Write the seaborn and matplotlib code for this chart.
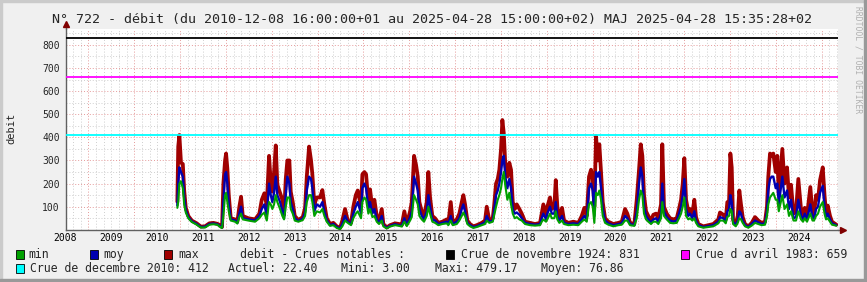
import numpy as np
import pandas as pd
import matplotlib
matplotlib.use("Agg")
import matplotlib.pyplot as plt
from matplotlib.ticker import FixedLocator, FuncFormatter
from matplotlib.patches import Rectangle
import seaborn as sns

# ---------------- data (decimal years, m3/s) ----------------
t_years = [
    2010.940, 2010.960, 2010.985, 2011.020, 2011.060, 2011.090, 2011.125, 2011.180, 2011.255, 2011.364,
    2011.452, 2011.546, 2011.639, 2011.727, 2011.814, 2011.888, 2011.916, 2011.945, 2011.982, 2012.004,
    2012.032, 2012.063, 2012.106, 2012.200, 2012.250, 2012.294, 2012.331, 2012.368, 2012.490, 2012.637,
    2012.730, 2012.783, 2012.839, 2012.892, 2012.942, 2012.979, 2013.014, 2013.051, 2013.088, 2013.123,
    2013.182, 2013.232, 2013.269, 2013.306, 2013.341, 2013.385, 2013.415, 2013.459, 2013.503, 2013.581,
    2013.677, 2013.728, 2013.765, 2013.815, 2013.858, 2013.887, 2013.930, 2013.983, 2014.055, 2014.105,
    2014.149, 2014.201, 2014.273, 2014.345, 2014.419, 2014.491, 2014.541, 2014.600, 2014.659, 2014.731,
    2014.781, 2014.834, 2014.877, 2014.949, 2014.978, 2015.022, 2015.059, 2015.109, 2015.146, 2015.196,
    2015.240, 2015.292, 2015.342, 2015.401, 2015.436, 2015.510, 2015.582, 2015.691, 2015.779, 2015.837,
    2015.894, 2015.947, 2016.019, 2016.056, 2016.106, 2016.150, 2016.187, 2016.222, 2016.274, 2016.324,
    2016.383, 2016.418, 2016.455, 2016.505, 2016.564, 2016.636, 2016.723, 2016.819, 2016.854, 2016.907,
    2016.950, 2017.038, 2017.094, 2017.147, 2017.182, 2017.219, 2017.269, 2017.328, 2017.400, 2017.474,
    2017.583, 2017.655, 2017.692, 2017.749, 2017.823, 2017.851, 2017.895, 2017.932, 2017.967, 2018.004,
    2018.033, 2018.063, 2018.098, 2018.142, 2018.185, 2018.222, 2018.260, 2018.303, 2018.347, 2018.404,
    2018.456, 2018.528, 2018.637, 2018.746, 2018.855, 2018.892, 2018.927, 2018.986, 2019.014, 2019.073,
    2019.110, 2019.167, 2019.198, 2019.233, 2019.276, 2019.335, 2019.379, 2019.473, 2019.582, 2019.691,
    2019.765, 2019.822, 2019.874, 2019.924, 2019.968, 2020.005, 2020.040, 2020.077, 2020.114, 2020.149,
    2020.186, 2020.223, 2020.274, 2020.346, 2020.455, 2020.564, 2020.638, 2020.710, 2020.760, 2020.819,
    2020.913, 2020.965, 2021.015, 2021.053, 2021.088, 2021.124, 2021.168, 2021.218, 2021.277, 2021.327,
    2021.386, 2021.436, 2021.495, 2021.523, 2021.560, 2021.620, 2021.692, 2021.764, 2021.838, 2021.888,
    2021.932, 2021.969, 2022.004, 2022.041, 2022.091, 2022.128, 2022.178, 2022.222, 2022.259, 2022.309,
    2022.418, 2022.527, 2022.636, 2022.745, 2022.782, 2022.855, 2022.907, 2022.942, 2022.979, 2023.008,
    2023.038, 2023.067, 2023.126, 2023.169, 2023.204, 2023.240, 2023.277, 2023.328, 2023.400, 2023.474,
    2023.546, 2023.618, 2023.691, 2023.764, 2023.807, 2023.836, 2023.873, 2023.910, 2023.945, 2023.998,
    2024.033, 2024.065, 2024.142, 2024.190, 2024.245, 2024.288, 2024.332, 2024.386, 2024.441, 2024.491,
    2024.550, 2024.594, 2024.631, 2024.681, 2024.753, 2024.801, 2024.834, 2024.878, 2024.921, 2024.965,
    2025.024, 2025.063, 2025.096, 2025.133, 2025.183, 2025.226, 2025.320,
]
debit_max = [
    122, 360, 410, 290, 285, 170, 95, 60, 40, 28,
    14, 15, 28, 30, 26, 18, 12, 200, 300, 330,
    265, 150, 50, 45, 35, 100, 143, 60, 50, 45,
    70, 130, 158, 105, 320, 205, 165, 250, 365, 195,
    160, 130, 65, 220, 300, 300, 165, 120, 60, 42,
    55, 95, 230, 360, 300, 240, 110, 140, 140, 172,
    110, 50, 25, 30, 15, 8, 40, 90, 40, 30,
    100, 150, 170, 100, 240, 250, 240, 120, 175, 90,
    130, 60, 40, 90, 25, 10, 20, 28, 25, 20,
    80, 25, 80, 120, 320, 280, 230, 120, 80, 60,
    120, 250, 140, 60, 50, 30, 35, 45, 30, 120,
    30, 45, 70, 120, 150, 110, 40, 25, 15, 20,
    30, 40, 100, 40, 50, 100, 200, 220, 260, 350,
    475, 420, 280, 230, 290, 260, 120, 90, 110, 90,
    70, 35, 30, 25, 30, 70, 110, 60, 100, 140,
    90, 100, 215, 100, 50, 95, 40, 30, 35, 30,
    60, 95, 60, 230, 260, 220, 100, 405, 300, 370,
    250, 120, 50, 35, 25, 30, 35, 90, 70, 30,
    25, 130, 260, 370, 320, 150, 80, 60, 40, 65,
    70, 50, 110, 370, 100, 70, 50, 45, 50, 90,
    130, 200, 310, 130, 80, 90, 70, 130, 55, 25,
    15, 20, 25, 45, 75, 65, 45, 120, 120, 330,
    270, 45, 25, 60, 170, 110, 55, 25, 15, 30,
    55, 40, 30, 35, 100, 230, 330, 320, 330, 250,
    320, 150, 350, 200, 270, 140, 195, 70, 80, 220,
    90, 60, 95, 60, 185, 70, 65, 150, 130, 215,
    270, 150, 70, 105, 60, 35, 22.4,
]
debit_moy = [
    105, 200, 270, 250, 230, 140, 85, 55, 37, 25,
    12, 13, 25, 27, 24, 14, 10, 120, 240, 250,
    200, 110, 45, 40, 30, 70, 100, 50, 45, 40,
    60, 90, 110, 60, 200, 150, 120, 160, 230, 150,
    120, 80, 50, 150, 230, 200, 120, 90, 50, 38,
    48, 75, 170, 230, 220, 180, 80, 110, 100, 120,
    80, 42, 20, 25, 12, 6, 25, 60, 35, 25,
    70, 100, 120, 70, 180, 200, 180, 90, 120, 70,
    90, 45, 30, 60, 20, 8, 17, 24, 20, 17,
    50, 20, 55, 80, 230, 200, 170, 90, 60, 45,
    80, 150, 100, 45, 40, 25, 30, 35, 25, 60,
    25, 35, 50, 90, 110, 80, 30, 20, 12, 15,
    25, 32, 60, 35, 40, 80, 150, 170, 200, 250,
    300, 320, 230, 180, 220, 180, 90, 70, 75, 65,
    50, 30, 25, 22, 25, 50, 70, 45, 70, 100,
    70, 70, 120, 60, 40, 60, 30, 25, 28, 25,
    45, 60, 45, 180, 200, 170, 60, 250, 230, 250,
    180, 90, 40, 28, 20, 25, 28, 60, 50, 25,
    20, 80, 200, 270, 230, 100, 60, 45, 30, 45,
    50, 35, 70, 200, 80, 55, 40, 35, 40, 70,
    100, 150, 220, 90, 60, 70, 50, 80, 40, 20,
    12, 16, 20, 35, 55, 50, 35, 80, 90, 150,
    120, 35, 20, 40, 80, 70, 40, 20, 12, 25,
    40, 32, 25, 28, 80, 170, 220, 230, 230, 180,
    200, 110, 230, 140, 170, 90, 130, 50, 55, 130,
    60, 45, 70, 45, 110, 50, 50, 90, 100, 160,
    190, 100, 55, 70, 45, 28, 20,
]
debit_min = [
    95, 120, 200, 210, 180, 110, 75, 50, 34, 22,
    10, 10, 22, 24, 22, 10, 8, 60, 150, 160,
    120, 80, 40, 35, 27, 55, 70, 45, 40, 35,
    50, 65, 75, 40, 120, 110, 90, 110, 150, 120,
    90, 60, 45, 100, 140, 140, 90, 70, 40, 35,
    42, 60, 120, 150, 150, 120, 60, 80, 75, 90,
    60, 35, 17, 20, 8, 3, 15, 40, 30, 20,
    50, 70, 80, 50, 120, 140, 130, 70, 90, 55,
    60, 35, 25, 40, 15, 6, 14, 20, 17, 14,
    35, 16, 40, 55, 150, 130, 110, 60, 45, 35,
    60, 100, 70, 35, 30, 20, 25, 28, 20, 40,
    20, 25, 40, 60, 75, 60, 25, 15, 8, 12,
    20, 25, 40, 30, 35, 60, 100, 130, 150, 180,
    220, 250, 190, 130, 160, 110, 70, 50, 55, 45,
    40, 25, 20, 18, 20, 35, 45, 35, 45, 70,
    50, 50, 80, 45, 30, 40, 25, 20, 22, 20,
    35, 45, 35, 110, 120, 100, 30, 160, 150, 170,
    130, 60, 30, 22, 15, 20, 22, 40, 40, 20,
    17, 50, 130, 170, 150, 70, 45, 35, 25, 35,
    35, 25, 50, 120, 60, 45, 30, 28, 30, 50,
    70, 100, 140, 60, 45, 50, 40, 50, 30, 15,
    9, 12, 15, 28, 40, 40, 28, 55, 60, 90,
    80, 25, 15, 30, 50, 45, 30, 15, 9, 18,
    30, 25, 20, 22, 60, 110, 140, 150, 160, 130,
    130, 80, 150, 90, 110, 60, 80, 40, 40, 80,
    45, 35, 50, 35, 70, 40, 40, 60, 70, 100,
    120, 70, 45, 50, 35, 22, 18,
]

crue_labels = ["Crue de novembre 1924", "Crue d avril 1983", "Crue de decembre 2010"]
crue_values = [831, 659, 412]
crue_colors = ["#000000", "#ff00ff", "#00ffff"]

series_names = ["min", "moy", "max"]
series_colors = ["#00a000", "#0000b0", "#a00000"]

stat_labels = ["Actuel", "Mini", "Maxi", "Moyen"]
stat_values = [22.40, 3.00, 479.17, 76.86]

title = ("N° 722 - débit (du 2010-12-08 16:00:00+01 au 2025-04-28 15:00:00+02) "
         "MAJ 2025-04-28 15:35:28+02")

# ---------------- figure ----------------
sns.set_style("white")
MONO = ["DejaVu Sans Mono", "DejaVu Sans"]
plt.rcParams["font.family"] = MONO

W, H = 867, 282
fig = plt.figure(figsize=(W / 100, H / 100), dpi=100, facecolor="#f0f0f0")

def fx(px):
    return px / W

def fy(py):
    return 1 - py / H

# 3D frame borders
fig.patches.append(Rectangle((0, fy(2)), 1, 2 / H, transform=fig.transFigure, color="#cbcbcb", zorder=0))
fig.patches.append(Rectangle((0, 0), 2 / W, 1, transform=fig.transFigure, color="#cbcbcb", zorder=0))
fig.patches.append(Rectangle((0, 0), 1, 3 / H, transform=fig.transFigure, color="#999999", zorder=0))
fig.patches.append(Rectangle((1 - 3 / W, 0), 3 / W, 1, transform=fig.transFigure, color="#999999", zorder=0))

x_left, x_right = 65.5, 838
y_top, y_bot = 28.5, 229.8
ax = fig.add_axes([fx(x_left), fy(y_bot), fx(x_right - x_left), (y_bot - y_top) / H])
ax.set_facecolor("white")

df = pd.DataFrame({"t": t_years, "max": debit_max, "moy": debit_moy, "min": debit_min})
for name, col, lw in [("max", series_colors[2], 2.7), ("moy", series_colors[1], 1.7), ("min", series_colors[0], 1.5)]:
    sns.lineplot(data=df, x="t", y=name, color=col, lw=lw, ax=ax,
                 estimator=None, sort=False, zorder=3)

for v, c in zip(crue_values, crue_colors):
    ax.axhline(v, color=c, lw=1.3, zorder=4)

ax.set_xlim(2008.5, 2025.357)
ax.set_ylim(0, 871)

# x ticks: year starts (major, red grid), every 2 months (minor, grey), labels mid-year
ax.xaxis.set_major_locator(FixedLocator(np.arange(2009, 2026)))
ax.xaxis.set_major_formatter(FuncFormatter(lambda v, p: ""))
ax.xaxis.set_minor_locator(FixedLocator(np.arange(2008.5, 2025.4, 1 / 6)))

def minor_fmt(v, p):
    if abs((v % 1) - 0.5) < 1e-6:
        return str(int(np.floor(v)))
    return ""

ax.xaxis.set_minor_formatter(FuncFormatter(minor_fmt))

ax.yaxis.set_major_locator(FixedLocator(np.arange(100, 900, 100)))
ax.yaxis.set_minor_locator(FixedLocator(np.arange(50, 900, 100)))

ax.grid(which="major", color="#e59a9a", lw=0.7, ls=(0, (1, 2)), zorder=1)
ax.grid(which="minor", color="#cfcfcf", lw=0.7, ls=(0, (1, 2)), zorder=1)
ax.set_axisbelow(True)

ax.tick_params(axis="x", which="both", labelsize=7, length=1.5, pad=1, colors="#000000")
ax.tick_params(axis="x", which="major", color="#c04040")
ax.tick_params(axis="x", which="minor", color="#909090")
ax.tick_params(axis="y", which="both", labelsize=7, length=0, pad=4)

for s in ["top", "right"]:
    ax.spines[s].set_visible(False)
for s in ["left", "bottom"]:
    ax.spines[s].set_color("#606060")
    ax.spines[s].set_linewidth(1.0)

ax.set_xlabel("")
ax.set_ylabel("")

# axis arrows
ax.plot([1.0, 1.006], [0, 0], transform=ax.transAxes, color="#606060", lw=1, clip_on=False, zorder=5)
ax.plot([1.006], [0], marker=">", ms=5, color="#800000", transform=ax.transAxes, clip_on=False, zorder=6)
ax.plot([0, 0], [1.0, 1.02], transform=ax.transAxes, color="#606060", lw=1, clip_on=False, zorder=5)
ax.plot([0], [1.02], marker="^", ms=5, color="#800000", transform=ax.transAxes, clip_on=False, zorder=6)

# texts
fig.text(fx(52.5), fy(20), title, fontsize=9.6, ha="left", va="center", family=MONO)
fig.text(fx(11), fy(128), "debit", fontsize=7.5, rotation=90, ha="center", va="center", family=MONO)
fig.text(fx(858), fy(60), "RRDTOOL / TOBI OETIKER", fontsize=5.8, rotation=270,
         ha="center", va="center", color="#b0b0b0", family=MONO)

LFS = 8.3

def swatch(px, py, color):
    fig.patches.append(Rectangle((fx(px), fy(py + 4.5)), 8 / W, 9 / H, transform=fig.transFigure,
                                 facecolor=color, edgecolor="#000000", lw=0.6, zorder=5))

row1, row2 = 254.3, 268.3
sw_x = [15.5, 90, 164]
tx_x = [28.5, 103, 178]
for name, col, sx, tx in zip(series_names, series_colors, sw_x, tx_x):
    swatch(sx, row1, col)
    fig.text(fx(tx), fy(row1), name, fontsize=LFS, ha="left", va="center", family=MONO)

fig.text(fx(240), fy(row1), "debit - Crues notables :", fontsize=LFS, ha="left", va="center", family=MONO)

crue_pos = [(446, 461, row1), (681, 696, row1), (15.5, 30, row2)]
for lab, v, c, (sx, tx, ry) in zip(crue_labels, crue_values, crue_colors, crue_pos):
    swatch(sx, ry, c)
    fig.text(fx(tx), fy(ry), f"{lab}: {v}", fontsize=LFS, ha="left", va="center", family=MONO)

stat_x = [228, 341, 435, 541]
for lab, v, sx in zip(stat_labels, stat_values, stat_x):
    fig.text(fx(sx), fy(row2), f"{lab}: {v:.2f}", fontsize=LFS, ha="left", va="center", family=MONO)

fig.savefig("out.png", dpi=100, facecolor=fig.get_facecolor())
